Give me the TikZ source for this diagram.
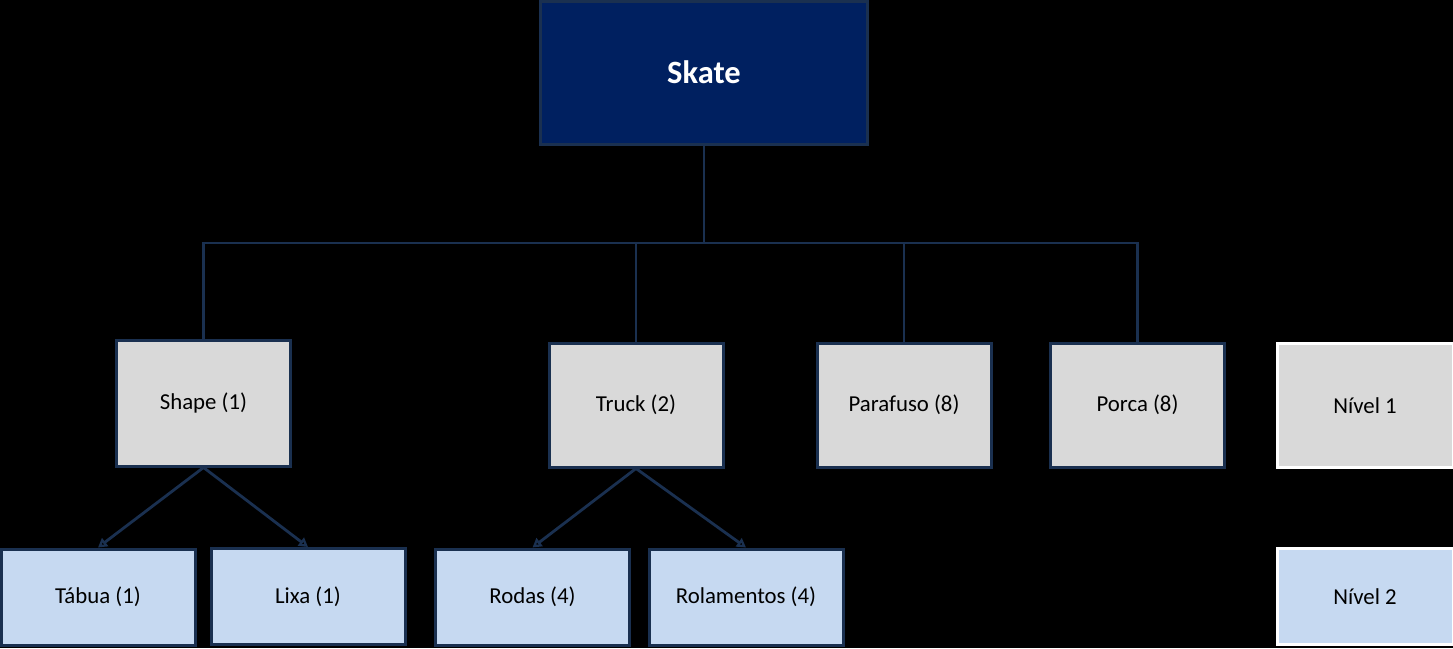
\documentclass[tikz,border=0pt]{standalone}
\usepackage{fontspec}
\setmainfont{Carlito}
\usetikzlibrary{arrows.meta}
\definecolor{navy}{HTML}{002060}
\definecolor{edge}{HTML}{1A3050}
\definecolor{lvlone}{HTML}{D9D9D9}
\definecolor{lvltwo}{HTML}{C6D9F1}
\begin{document}
\begin{tikzpicture}[x=1pt,y=-1pt,
  box/.style={draw=edge,line width=3pt,inner sep=0pt,font=\fontsize{22.8}{26}\selectfont,text=black},
  one/.style={box,fill=lvlone,minimum width=174pt,minimum height=124pt},
  two/.style={box,fill=lvltwo,minimum width=194pt,minimum height=96pt},
  legend/.style={draw=white},
  wire/.style={draw=edge,line width=2.8pt},
  arr/.style={wire,-{Stealth[length=9pt,width=10pt,inset=0pt,open]}}]
\fill[black] (0,0) rectangle (1453,648);
\useasboundingbox (0,0) rectangle (1453,648);
\node[box,fill=navy,minimum width=327pt,minimum height=143pt,text=white,font=\bfseries\fontsize{32.5}{36}\selectfont] (skate) at (704,72.5) {Skate};
\node[one,minimum height=126pt] (shape) at (203.5,403) {Shape (1)};
\node[one] (truck) at (636,405) {Truck (2)};
\node[one] (paraf) at (904,405) {Parafuso (8)};
\node[one] (porca) at (1137.5,405) {Porca (8)};
\node[one,legend,minimum width=176pt] (nivel1) at (1365,405.5) {Nível 1};
\node[two] (tabua) at (98,597) {Tábua (1)};
\node[two] (lixa) at (308,596.5) {Lixa (1)};
\node[two] (rodas) at (532.5,597) {Rodas (4)};
\node[two] (rolam) at (746,597) {Rolamentos (4)};
\node[two,legend,minimum width=176pt] (nivel2) at (1365,596.5) {Nível 2};
\coordinate (bus) at (704,243);
\draw[wire] (skate.south) -- (bus);
\draw[wire] (bus) -| (shape.north);
\draw[wire] (bus) -| (truck.north);
\draw[wire] (bus) -| (paraf.north);
\draw[wire] (bus) -| (porca.north);
\draw[arr] (shape.south) -- (tabua.north);
\draw[arr] (shape.south) -- (lixa.north);
\draw[arr] (truck.south) -- (rodas.north);
\draw[arr] (truck.south) -- (rolam.north);
\end{tikzpicture}
\end{document}
